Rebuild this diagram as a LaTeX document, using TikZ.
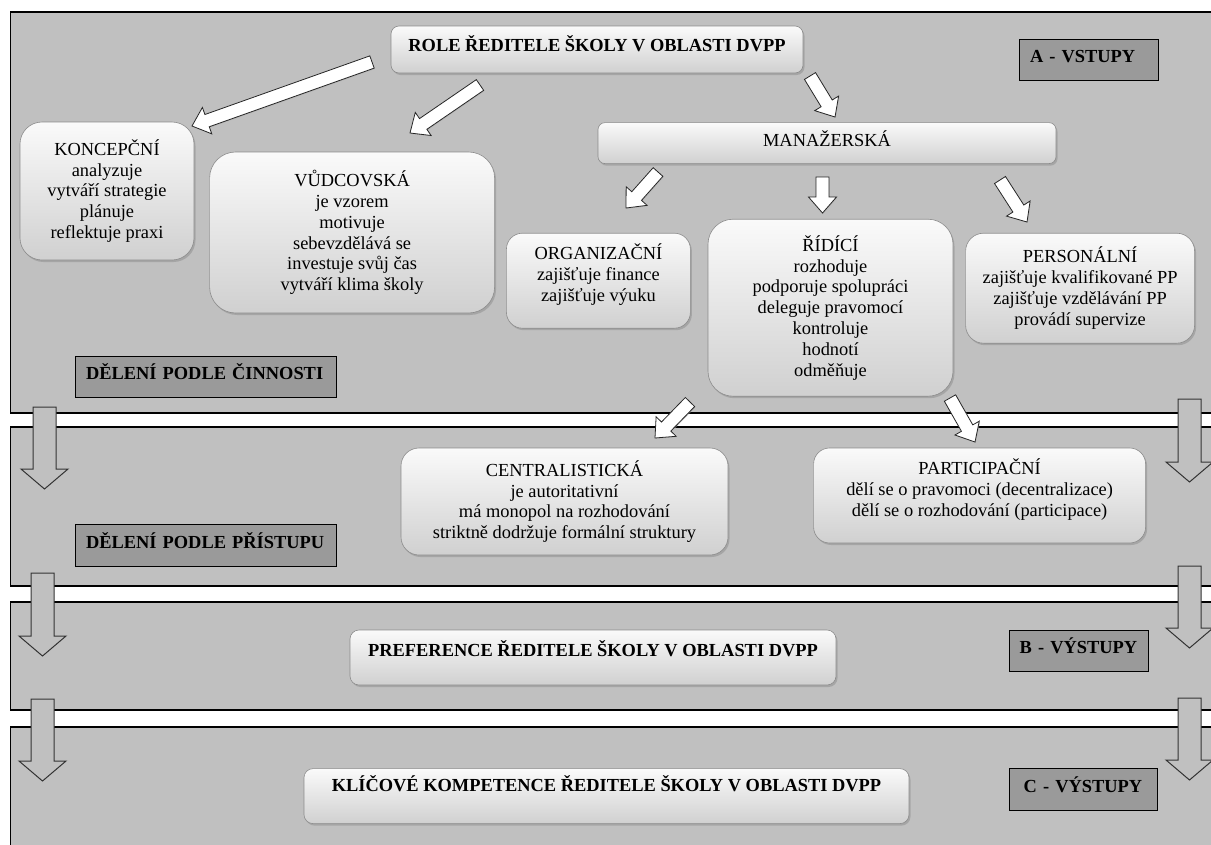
\documentclass[tikz,border=0pt]{standalone}
\usepackage{fontspec}
\setmainfont{Liberation Serif}
\usetikzlibrary{positioning,calc,shadows}

\definecolor{panelgray}{HTML}{C0C0C0}
\definecolor{lblgray}{HTML}{9A9A9A}
\definecolor{boxtop}{HTML}{FAFAFA}
\definecolor{boxbot}{HTML}{D0D0D0}

\newcommand{\dvfont}{\fontsize{18.4pt}{20.8pt}\selectfont}
% [style]{shaft half width}{head half width}{head length}{from}{to}
\newcommand{\blockarrow}[6][warrow]{%
  \coordinate (ba-h) at ($(#6)!#4!(#5)$);
  \draw[#1] ($(#5)!#2!90:(#6)$) -- ($(ba-h)!#2!90:(#6)$) -- ($(ba-h)!#3!90:(#6)$) -- (#6)
    -- ($(ba-h)!#3!-90:(#6)$) -- ($(ba-h)!#2!-90:(#6)$) -- ($(#5)!#2!-90:(#6)$) -- cycle;}

\tikzset{
  panel/.style={draw=black, line width=1.2pt, fill=panelgray},
  rbox/.style={draw=black!45, line width=0.6pt, rounded corners=#1,
    top color=boxtop, bottom color=boxbot, align=center, inner sep=4pt,
    drop shadow={shadow xshift=1.5pt, shadow yshift=-2pt, fill=black!45}},
  lbox/.style={draw=black, line width=1pt, fill=lblgray, font=\dvfont\bfseries,
    align=left, inner xsep=11pt, text height=12.2pt, text depth=6pt},
  warrow/.style={draw=black!85, line width=0.8pt, fill=white,
    drop shadow={shadow xshift=0.8pt, shadow yshift=-0.8pt, fill=black!35}},
  garrow/.style={draw=black!80, line width=1pt, fill=panelgray},
}

\begin{document}
\begin{tikzpicture}[x=1pt, y=-1pt, font=\dvfont]

  \useasboundingbox (0,0) rectangle (1211,844);
  \clip (0,0) rectangle (1211,844);
  \fill[white] (0,0) rectangle (1211,844);

  % Panels
  \draw[panel] (10.5,12) rectangle (1240,413);
  \draw[panel] (10.5,427) rectangle (1240,586);
  \draw[panel] (10.5,602) rectangle (1240,710);
  \draw[panel] (10.5,727) rectangle (1240,870);

  % Flow between the panels
  \coordinate (l1s) at (44.5,407);   \coordinate (l1e) at (44.5,489);
  \coordinate (l2s) at (42.5,573);   \coordinate (l2e) at (42.5,656);
  \coordinate (l3s) at (42.5,699);   \coordinate (l3e) at (42.5,781);
  \coordinate (r1s) at (1189.5,399); \coordinate (r1e) at (1189.5,482);
  \coordinate (r2s) at (1189.5,566); \coordinate (r2e) at (1189.5,648);
  \coordinate (r3s) at (1189.5,698); \coordinate (r3e) at (1189.5,780);
  \foreach \a in {l1,l2,l3,r1,r2,r3}{
    \blockarrow[garrow]{11.5pt}{23.5pt}{20pt}{\a s}{\a e}
  }

  % Define nodes
  \node[rbox=8pt, font=\dvfont\bfseries, minimum width=412pt, minimum height=47pt,
        text height=12.2pt, text depth=9pt] (role) at (597,49.5)
        {ROLE ŘEDITELE ŠKOLY V OBLASTI DVPP};
  \node[rbox=7pt, minimum width=458pt, minimum height=41pt, text height=12.2pt,
        text depth=5pt, below=49pt of role, xshift=230pt] (manazer) {MANAŽERSKÁ};
  \node[rbox=25pt, minimum width=245pt, minimum height=177pt,
        below=55pt of manazer, xshift=3.5pt] (ridici)
        {ŘÍDÍCÍ\\rozhoduje\\podporuje spolupráci\\deleguje pravomocí\\kontroluje\\hodnotí\\odměňuje};
  \node[rbox=16pt, minimum width=184pt, minimum height=95pt,
        left=17pt of ridici, yshift=27pt] (organiz)
        {ORGANIZAČNÍ\\zajišťuje finance\\zajišťuje výuku\\[-5pt]\mbox{}};
  \node[rbox=18pt, minimum width=229pt, minimum height=110pt,
        right=12pt of ridici, yshift=19.5pt] (personal)
        {PERSONÁLNÍ\\zajišťuje kvalifikované PP\\zajišťuje vzdělávání PP\\provádí supervize};
  \node[rbox=22pt, minimum width=174pt, minimum height=138pt] (koncep) at (107,191)
        {KONCEPČNÍ\\analyzuje\\vytváří strategie\\plánuje\\reflektuje praxi};
  \node[rbox=26pt, minimum width=285pt, minimum height=161pt,
        right=15pt of koncep, yshift=-41.5pt] (vudce)
        {VŮDCOVSKÁ\\je vzorem\\motivuje\\sebevzdělává se\\investuje svůj čas\\vytváří klima školy};
  \node[rbox=18pt, minimum width=327pt, minimum height=107pt] (centr) at (564.5,501.5)
        {CENTRALISTICKÁ\\je autoritativní\\má monopol na rozhodování\\striktně dodržuje formální struktury};
  \node[rbox=16pt, minimum width=332pt, minimum height=95pt,
        right=85pt of centr, yshift=6pt] (partic)
        {PARTICIPAČNÍ\\dělí se o pravomoci (decentralizace)\\dělí se o rozhodování (participace)\\[-5pt]\mbox{}};
  \node[rbox=9pt, font=\dvfont\bfseries, minimum width=486pt, minimum height=55pt,
        text height=12.2pt, text depth=15pt] (prefer) at (593,657.5)
        {PREFERENCE ŘEDITELE ŠKOLY V OBLASTI DVPP};
  \node[rbox=9pt, font=\dvfont\bfseries, minimum width=605pt, minimum height=55pt,
        text height=12.2pt, text depth=21pt, below=83pt of prefer, xshift=13.5pt] (klicove)
        {KLÍČOVÉ KOMPETENCE ŘEDITELE ŠKOLY V OBLASTI DVPP};

  \node[lbox, text width=239pt, minimum height=41pt] (delcin) at (205.5,376.5) {DĚLENÍ PODLE ČINNOSTI};
  \node[lbox, text width=239pt, minimum height=42pt, below=126pt of delcin] (delpri) {DĚLENÍ PODLE PŘÍSTUPU};
  \node[lbox, text width=117pt, minimum height=41pt] (vstupA) at (1088.5,59.5) {A - VSTUPY};
  \node[lbox, align=center, text width=129pt, inner xsep=5pt, minimum height=41pt] (vystupB) at (1078.5,650.5) {\mbox{B - VÝSTUPY}};
  \node[lbox, align=center, text width=136pt, inner xsep=6pt, minimum height=42pt, below=96pt of vystupB, xshift=4.5pt] (vystupC) {\mbox{C - VÝSTUPY}};

  % Connect the nodes
  \coordinate (a1s) at (372,62);    \coordinate (a1e) at (192,126);
  \coordinate (a2s) at (480,85);    \coordinate (a2e) at (410,133);
  \coordinate (a3s) at (810,76);    \coordinate (a3e) at (835,117);
  \coordinate (a4s) at (658,172);   \coordinate (a4e) at (626,208);
  \coordinate (a5s) at (822.5,177); \coordinate (a5e) at (822.5,213);
  \coordinate (a6s) at (1000,180);  \coordinate (a6e) at (1027,222);
  \coordinate (a7s) at (690,402);   \coordinate (a7e) at (655,438);
  \coordinate (a8s) at (950,398);   \coordinate (a8e) at (975,442);
  \foreach \a in {a1,a2,a3,a4,a5,a6,a7,a8}{
    \blockarrow{6.5pt}{14pt}{16pt}{\a s}{\a e}
  }

\end{tikzpicture}
\end{document}
